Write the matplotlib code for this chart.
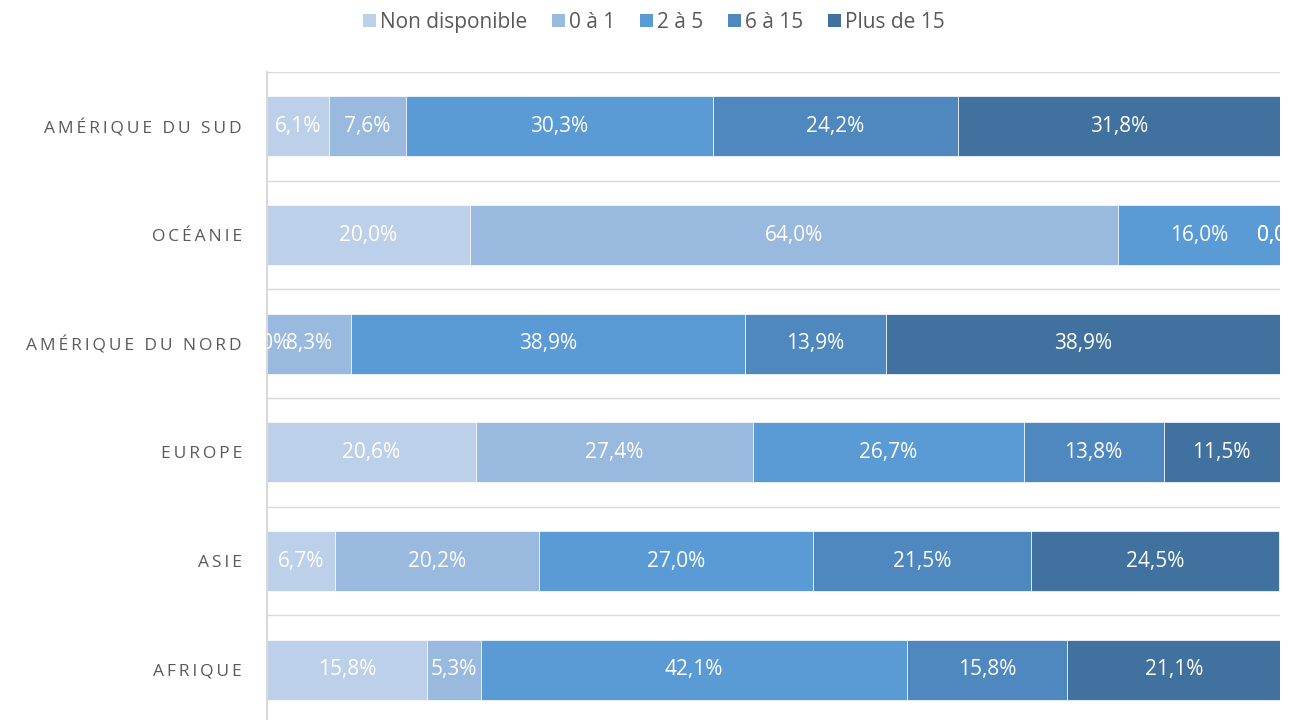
import matplotlib
matplotlib.use("Agg")
import matplotlib.pyplot as plt
from matplotlib.patches import Patch

plt.rcParams['font.family'] = ['Open Sans', 'DejaVu Sans']

# data, bottom row first
regions = ['Afrique', 'Asie', 'Europe', 'Amérique du Nord', 'Océanie', 'Amérique du Sud']
series = ['Non disponible', '0 à 1', '2 à 5', '6 à 15', 'Plus de 15']
non_dispo = [15.8, 6.7, 20.6, 0.0, 20.0, 6.1]
zero_un = [5.3, 20.2, 27.4, 8.3, 64.0, 7.6]
deux_cinq = [42.1, 27.0, 26.7, 38.9, 16.0, 30.3]
six_quinze = [15.8, 21.5, 13.8, 13.9, 0.0, 24.2]
plus_quinze = [21.1, 24.5, 11.5, 38.9, 0.0, 31.8]
colors = ['#bdd0e9', '#99b9df', '#5b9bd5', '#4e88bf', '#41729f']

values = [non_dispo, zero_un, deux_cinq, six_quinze, plus_quinze]

fig = plt.figure(figsize=(12.95, 7.2), dpi=100)
ax = fig.add_axes([267/1295, -4/720, (1280-267)/1295, 652/720])

y = list(range(len(regions)))
left = [0.0] * len(regions)
for vals, name, col in zip(values, series, colors):
    ax.barh(y, vals, left=left, height=0.55, color=col, edgecolor='white', linewidth=0.5, label=name)
    for i, v in enumerate(vals):
        txt = f"{v:.1f}".replace('.', ',') + '%'
        ax.text(left[i] + v / 2, i, txt, ha='center', va='center', color='white',
                fontsize=15, clip_on=True)
    left = [l + v for l, v in zip(left, vals)]

ax.set_xlim(0, 100)
ax.set_ylim(-0.5, 5.5)

# spaced uppercase category labels
def spaced(s):
    words = s.upper().split(' ')
    return '\u2009\u2009 '.join('\u2009'.join(w) for w in words)

ax.set_yticks(y)
ax.set_yticklabels([spaced(r) for r in regions], fontsize=12.5, color='#595959')
ax.tick_params(axis='y', length=0, pad=18)
ax.set_xticks([])

for k in range(len(regions) + 1):
    ax.axhline(k - 0.5, color='#d9d9d9', lw=1, zorder=0)

for s in ['top', 'right', 'bottom']:
    ax.spines[s].set_visible(False)
ax.spines['left'].set_color('#d9d9d9')
ax.spines['left'].set_linewidth(1.5)

handles = [Patch(facecolor=c, label=n) for c, n in zip(colors, series)]
fig.legend(handles=handles, loc='upper center', bbox_to_anchor=(0.505, 1.01), ncol=5,
           frameon=False, fontsize=15, handlelength=0.6, handleheight=0.6,
           handletextpad=0.2, columnspacing=1.2, labelcolor='#595959')

fig.savefig('out.png', dpi=100)
